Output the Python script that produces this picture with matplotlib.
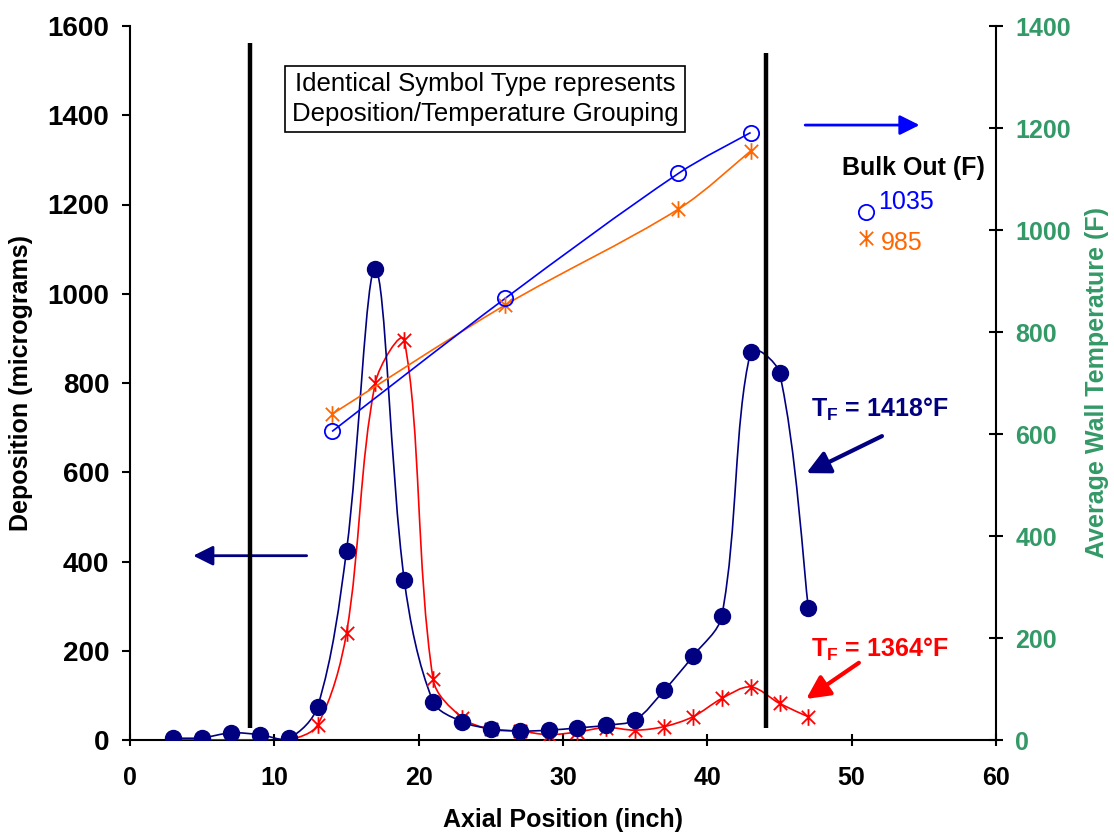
import numpy as np
import matplotlib
matplotlib.use("Agg")
import matplotlib.pyplot as plt
from matplotlib.path import Path
from matplotlib.patches import PathPatch

plt.rcParams['font.family'] = ['Liberation Sans', 'DejaVu Sans']
plt.rcParams['mathtext.fontset'] = 'custom'
plt.rcParams['mathtext.rm'] = 'Liberation Sans'
plt.rcParams['mathtext.bf'] = 'Liberation Sans:bold'

# ---------------- data ----------------
axial_pos = [3, 5, 7, 9, 11, 13, 15, 17, 19, 21, 23, 25, 27, 29, 31, 33, 35, 37, 39, 41, 43, 45, 47]
dep_1418 = [4, 5, 16, 12, 4, 75, 424, 1056, 359, 86, 41, 25, 20, 22, 27, 33, 45, 111, 188, 278, 870, 823, 295]
dep_1364 = [0, 0, 0, 0, 0, 34, 240, 801, 896, 136, 50, 24, 20, 12, 18, 28, 22, 30, 52, 93, 119, 82, 52]

temp_pos = [14, 26, 38, 43]
temp_1035 = [605, 866, 1111, 1191]
temp_985 = [639, 853, 1041, 1155]

bulk_labels = ["1035", "985"]
bulk_values = [1035, 985]
bulk_marker_x = 51

x_ticks = [0, 10, 20, 30, 40, 50, 60]
y_ticks = [0, 200, 400, 600, 800, 1000, 1200, 1400, 1600]
y2_ticks = [0, 200, 400, 600, 800, 1000, 1200, 1400]

NAVY = "#000080"
RED = "#FF0000"
BLUE = "#0000FF"
ORANGE = "#FF6600"
GREEN = "#339966"

# asterisk (Excel "star") marker
star = Path([(-1, -1), (1, 1), (-1, 1), (1, -1), (0, -1.25), (0, 1.25)],
            [Path.MOVETO, Path.LINETO, Path.MOVETO, Path.LINETO, Path.MOVETO, Path.LINETO])


def smooth_path(axis, x, y):
    """Excel-like smoothed line: Bezier segments computed in screen space."""
    trans = axis.transData
    pts = trans.transform(np.column_stack([np.asarray(x, float), np.asarray(y, float)]))
    n = len(pts)
    verts = [pts[0]]
    codes = [Path.MOVETO]
    for i in range(n - 1):
        p0 = pts[i - 1] if i > 0 else pts[i]
        p1 = pts[i]
        p2 = pts[i + 1]
        p3 = pts[i + 2] if i + 2 < n else pts[i + 1]
        d01 = np.hypot(*(p1 - p0))
        d12 = np.hypot(*(p2 - p1))
        d23 = np.hypot(*(p3 - p2))
        f1 = d12 / (3.0 * (d01 + d12)) if (d01 + d12) > 0 else 0
        f2 = d12 / (3.0 * (d12 + d23)) if (d12 + d23) > 0 else 0
        if i == 0:
            f1 = 1 / 3.0 * 0.5
        if i + 2 >= n:
            f2 = 1 / 3.0 * 0.5
        c1 = p1 + (p2 - p0) * f1
        c2 = p2 - (p3 - p1) * f2
        verts += [c1, c2, p2]
        codes += [Path.CURVE4] * 3
    verts = trans.inverted().transform(np.array(verts))
    return Path(verts, codes)


fig = plt.figure(figsize=(11.14, 8.35), dpi=100)
ax = fig.add_axes([130 / 1114, 1 - 740 / 835, 866 / 1114, 714 / 835])
ax2 = ax.twinx()

# axes limits/ticks (set first so the screen-space smoothing is correct)
ax.set_xlim(0, 60)
ax.set_ylim(0, 1600)
ax2.set_ylim(0, 1400)
ax2.set_xlim(0, 60)
ax.set_xticks(x_ticks)
ax.set_yticks(y_ticks)
ax2.set_yticks(y2_ticks)

# deposition curves
ax.add_patch(PathPatch(smooth_path(ax, axial_pos, dep_1364), fill=False, ec=RED, lw=1.2, zorder=3))
ax.plot(axial_pos, dep_1364, ls='none', marker=star, ms=12, mec=RED, mew=1.3, zorder=4)
ax.add_patch(PathPatch(smooth_path(ax, axial_pos, dep_1418), fill=False, ec=NAVY, lw=1.2, zorder=3))
ax.plot(axial_pos, dep_1418, ls='none', marker='o', ms=11.5, mfc=NAVY, mec=NAVY, zorder=4)

# vertical black lines
ax.plot([8.3, 8.3], [27, 1562], color='black', lw=3.2, zorder=5, solid_capstyle='butt')
ax.plot([44.05, 44.05], [27, 1540], color='black', lw=3.2, zorder=5, solid_capstyle='butt')

# temperature curves
ax2.add_patch(PathPatch(smooth_path(ax2, temp_pos, temp_985), fill=False, ec=ORANGE, lw=1.2, zorder=3))
ax2.plot(temp_pos, temp_985, ls='none', marker=star, ms=12, mec=ORANGE, mew=1.3, zorder=4)
ax2.add_patch(PathPatch(smooth_path(ax2, temp_pos, temp_1035), fill=False, ec=BLUE, lw=1.2, zorder=3))
ax2.plot(temp_pos, temp_1035, ls='none', marker='o', ms=11, mfc='none', mec=BLUE, mew=1.3, zorder=4)

# bulk out legend markers
ax2.plot([bulk_marker_x], [bulk_values[0]], ls='none', marker='o', ms=11, mfc='none', mec=BLUE, mew=1.3)
ax2.plot([bulk_marker_x], [bulk_values[1]], ls='none', marker=star, ms=12, mec=ORANGE, mew=1.3)
ax2.text(51.8, bulk_values[0] + 20, bulk_labels[0], color=BLUE, fontsize=18, ha='left', va='center')
ax2.text(52.0, bulk_values[1] - 10, bulk_labels[1], color=ORANGE, fontsize=18, ha='left', va='center')
ax2.text(54.3, 1122, "Bulk Out (F)", color='black', fontsize=18, fontweight='bold', ha='center', va='center')

for a in (ax, ax2):
    a.spines['top'].set_visible(False)
    for s in a.spines.values():
        s.set_linewidth(1.5)
ax.spines['right'].set_visible(False)
ax2.spines['left'].set_visible(False)
ax2.spines['bottom'].set_visible(False)

ax.tick_params(axis='x', direction='inout', length=9, width=1.5, pad=14, labelsize=18)
ax.tick_params(axis='y', direction='out', length=6, width=1.5, pad=9, labelsize=20)
ax2.tick_params(axis='y', direction='inout', length=10, width=1.5, pad=9, labelsize=18, labelcolor=GREEN)
for lab in ax.get_xticklabels() + ax.get_yticklabels() + ax2.get_yticklabels():
    lab.set_fontweight('bold')

ax.set_xlabel("Axial Position (inch)", fontsize=18, fontweight='bold')
ax.xaxis.set_label_coords(0.5, -0.095)
ax.set_ylabel("Deposition (micrograms)", fontsize=18, fontweight='bold')
ax.yaxis.set_label_coords(-0.112, 0.5)
ax2.set_ylabel("Average Wall Temperature (F)", fontsize=18, fontweight='bold', color=GREEN)
ax2.yaxis.set_label_coords(1.103, 0.5)

# annotation box
ax.text(24.6, 1436, "Identical Symbol Type represents\nDeposition/Temperature Grouping",
        fontsize=18.5, ha='center', va='center', linespacing=1.3, zorder=6,
        bbox=dict(boxstyle='square,pad=0.25', fc='white', ec='black', lw=1.2))

# arrows
ax.annotate('', xy=(4.38, 413), xytext=(12.24, 413),
            arrowprops=dict(arrowstyle='-|>,head_length=0.6,head_width=0.3', color=NAVY, lw=2,
                            mutation_scale=20, shrinkA=0, shrinkB=0))
ax.annotate('', xy=(54.7, 1378), xytext=(46.78, 1378),
            arrowprops=dict(arrowstyle='-|>,head_length=0.6,head_width=0.3', color=BLUE, lw=2,
                            mutation_scale=20, shrinkA=0, shrinkB=0))
ax.annotate('', xy=(46.86, 598), xytext=(52.1, 681),
            arrowprops=dict(arrowstyle='-|>,head_length=0.7,head_width=0.35', color=NAVY, lw=3,
                            mutation_scale=20, shrinkA=0, shrinkB=0))
ax.annotate('', xy=(46.85, 92), xytext=(50.5, 173),
            arrowprops=dict(arrowstyle='-|>,head_length=0.7,head_width=0.35', color=RED, lw=3,
                            mutation_scale=20, shrinkA=0, shrinkB=0))

ax.text(51.97, 740, r'$\mathbf{T_F}$ = 1418°F', color=NAVY, fontsize=18, fontweight='bold',
        ha='center', va='center')
ax.text(51.97, 202, r'$\mathbf{T_F}$ = 1364°F', color=RED, fontsize=18, fontweight='bold',
        ha='center', va='center')

fig.savefig("out.png", dpi=100)
